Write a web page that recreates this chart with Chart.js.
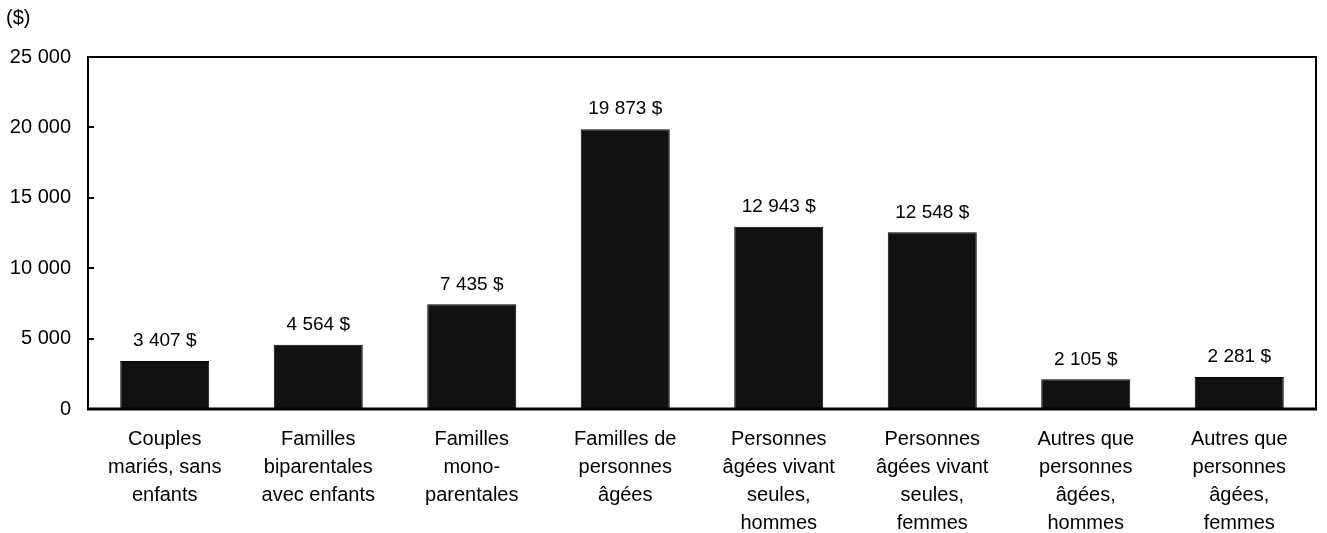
<!DOCTYPE html>
<html>
<head>
<meta charset="utf-8">
<script src="https://cdn.jsdelivr.net/npm/chart.js@4.4.0/dist/chart.umd.min.js"></script>
<style>
  html, body { margin: 0; padding: 0; background: #fff; }
  #wrap { width: 1327px; height: 533px; position: relative; }
</style>
</head>
<body>
<div id="wrap"><canvas id="barChart"></canvas></div>
<script>
// categories and values
var categories = [
    ['Couples', 'mariés, sans', 'enfants'],
    ['Familles', 'biparentales', 'avec enfants'],
    ['Familles', 'mono-', 'parentales'],
    ['Familles de', 'personnes', 'âgées'],
    ['Personnes', 'âgées vivant', 'seules,', 'hommes'],
    ['Personnes', 'âgées vivant', 'seules,', 'femmes'],
    ['Autres que', 'personnes', 'âgées,', 'hommes'],
    ['Autres que', 'personnes', 'âgées,', 'femmes']
];
var values = [3407, 4564, 7435, 19873, 12943, 12548, 2105, 2281];
var yTicks = [0, 5000, 10000, 15000, 20000, 25000];
var unitLabel = '($)';

var FONT = '"Liberation Sans", Arial, sans-serif';

function fmt(n) {
    return String(n).replace(/\B(?=(\d{3})+(?!\d))/g, ' ');
}

// draws frame, inward ticks, value labels and unit
var decorations = {
    id: 'decorations',
    afterDatasetsDraw: function (chart) {
        var ctx = chart.ctx;
        var a = chart.chartArea;
        var y = chart.scales.y;
        ctx.save();
        ctx.strokeStyle = '#000';
        ctx.lineWidth = 2;
        ctx.beginPath();
        ctx.moveTo(a.left, a.bottom);
        ctx.lineTo(a.left, a.top);
        ctx.lineTo(a.right, a.top);
        ctx.lineTo(a.right, a.bottom);
        ctx.stroke();
        ctx.lineWidth = 3;
        ctx.beginPath();
        ctx.moveTo(a.left - 1, a.bottom);
        ctx.lineTo(a.right + 1, a.bottom);
        ctx.stroke();
        ctx.lineWidth = 2;
        yTicks.forEach(function (t) {
            if (t === 0 || t === 25000) return;
            var py = Math.round(y.getPixelForValue(t));
            ctx.beginPath();
            ctx.moveTo(a.left, py);
            ctx.lineTo(a.left + 6, py);
            ctx.stroke();
        });

        ctx.fillStyle = '#000';
        ctx.font = '19px ' + FONT;
        ctx.textAlign = 'center';
        ctx.textBaseline = 'middle';
        var meta = chart.getDatasetMeta(0);
        meta.data.forEach(function (bar, i) {
            ctx.fillText(fmt(values[i]) + ' $', bar.x, bar.y - 20);
        });

        ctx.font = '20px ' + FONT;
        ctx.textAlign = 'left';
        ctx.fillText(unitLabel, 6, 18);
        ctx.restore();
    }
};

var ctx1 = document.getElementById('barChart').getContext('2d');
var barChart = new Chart(ctx1, {
    type: 'bar',
    data: {
        labels: categories,
        datasets: [{
            data: values,
            backgroundColor: '#111111',
            borderColor: '#000000',
            borderWidth: 1,
            barPercentage: 0.58,
            categoryPercentage: 1
        }]
    },
    options: {
        responsive: true,
        maintainAspectRatio: false,
        animation: false,
        layout: { padding: { left: 0, right: 11, top: 57, bottom: 0 } },
        plugins: {
            legend: { display: false },
            tooltip: { enabled: false }
        },
        scales: {
            x: {
                grid: { display: false, drawTicks: false },
                border: { display: false },
                ticks: {
                    color: '#000',
                    font: { family: FONT, size: 20, lineHeight: 1.4 },
                    padding: 16,
                    maxRotation: 0,
                    autoSkip: false
                },
                afterFit: function (scale) { scale.height = 124; }
            },
            y: {
                min: 0,
                max: 25000,
                grid: { display: false, drawTicks: false },
                border: { display: false },
                afterBuildTicks: function (scale) {
                    scale.ticks = yTicks.map(function (v) { return { value: v }; });
                },
                ticks: {
                    color: '#000',
                    font: { family: FONT, size: 20 },
                    padding: 17,
                    callback: function (v) { return fmt(v); }
                },
                afterFit: function (scale) { scale.width = 88; }
            }
        }
    },
    plugins: [decorations]
});
</script>
</body>
</html>
